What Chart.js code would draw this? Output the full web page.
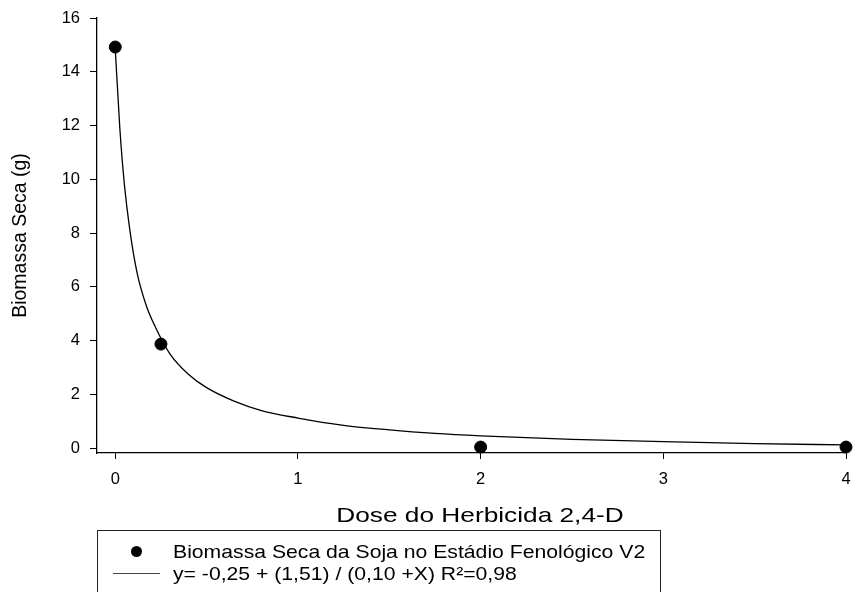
<!DOCTYPE html>
<html>
<head>
<meta charset="utf-8">
<script src="https://cdn.jsdelivr.net/npm/chart.js@4"></script>
<style>
  html, body { margin: 0; padding: 0; background: #fff; }
  #wrap { position: relative; width: 853px; height: 592px; overflow: hidden; }
  #c { position: absolute; left: 0; top: 0; }
  #xtitle {
    position: absolute; left: 480px; top: 514px; white-space: nowrap;
    font-family: "Liberation Sans", Arial, sans-serif; font-size: 21px; color: #000;
    transform: translate(-50%, -50%) scaleX(1.25); line-height: 1;
  }
  #legend {
    position: absolute; left: 97px; top: 530px; width: 564px; height: 80px;
    border: 1.5px solid #222; box-sizing: border-box; background: #fff;
    font-family: "Liberation Sans", Arial, sans-serif; font-size: 18.5px; color: #000;
  }
  .row { position: absolute; left: 0; width: 560px; height: 22px; line-height: 22px; white-space: nowrap; }
  .row span.t { position: absolute; left: 75px; transform: scaleX(1.145); transform-origin: 0 50%; }
  .dot { position: absolute; left: 33px; top: 5.5px; width: 11px; height: 11px; border-radius: 50%; background: #000; }
  .ln { position: absolute; left: 15px; top: 10.5px; width: 47px; height: 0; border-top: 1.5px solid #444; }
</style>
</head>
<body>
<div id="wrap">
  <canvas id="c" width="853" height="592"></canvas>
  <div id="xtitle"></div>
  <div id="legend">
    <div class="row" style="top:9.5px"><div class="dot"></div><span class="t" id="lg1"></span></div>
    <div class="row" style="top:31.5px"><div class="ln"></div><span class="t" id="lg2"></span></div>
  </div>
</div>
<script>
const doses = [0, 0.25, 2, 4];
const biomass = [14.92, 3.87, 0.04, 0.04];

// Fitted curve
const curveX = [0, 0.025, 0.05, 0.08, 0.12, 0.17, 0.22, 0.3, 0.4, 0.5, 0.65, 0.8, 1.0, 1.25, 1.5, 1.75, 2.0, 2.5, 3.0, 3.5, 4.0];
const curveY = [14.85, 11.9, 9.8, 8.1, 6.5, 5.3, 4.5, 3.5, 2.75, 2.25, 1.75, 1.4, 1.12, 0.85, 0.68, 0.55, 0.46, 0.33, 0.24, 0.17, 0.12];

const xTicks = [0, 1, 2, 3, 4];
const yTicks = [0, 2, 4, 6, 8, 10, 12, 14, 16];

const xTitle = 'Dose do Herbicida 2,4-D';
const yTitle = 'Biomassa Seca (g)';
const seriesLabel = 'Biomassa Seca da Soja no Estádio Fenológico V2';
const curveLabel = 'y= -0,25 + (1,51) / (0,10 +X) R²=0,98';

document.getElementById('xtitle').textContent = xTitle;
document.getElementById('lg1').textContent = seriesLabel;
document.getElementById('lg2').textContent = curveLabel;

const FONT = '"Liberation Sans", Arial, sans-serif';

new Chart(document.getElementById('c'), {
  type: 'scatter',
  data: {
    datasets: [
      {
        label: curveLabel,
        type: 'line',
        data: curveX.map((x, i) => ({x, y: curveY[i]})),
        borderColor: '#000',
        borderWidth: 1.3,
        pointRadius: 0,
        fill: false,
        cubicInterpolationMode: 'monotone',
        clip: false,
        order: 2
      },
      {
        label: seriesLabel,
        data: doses.map((x, i) => ({x, y: biomass[i]})),
        backgroundColor: '#000',
        borderColor: '#000',
        pointRadius: 6,
        pointHoverRadius: 6,
        clip: false,
        order: 1
      }
    ]
  },
  options: {
    responsive: false,
    animation: false,
    events: [],
    layout: { padding: { left: 0, right: 4, top: 18, bottom: 0 } },
    plugins: { legend: { display: false }, tooltip: { enabled: false } },
    scales: {
      x: {
        type: 'linear',
        min: -0.1, max: 4,
        afterFit: s => { s.height = 139; s.paddingLeft = 0; s.paddingRight = 0; },
        afterBuildTicks: s => { s.ticks = xTicks.map(v => ({value: v})); },
        ticks: { color: '#000', font: { family: FONT, size: 16.5 }, padding: 11, includeBounds: false, maxRotation: 0 },
        grid: { drawOnChartArea: false, drawTicks: true, tickLength: 6, color: '#000', lineWidth: 1 },
        border: { display: true, color: '#000', width: 1.3 },
        title: { display: false, text: xTitle }
      },
      y: {
        type: 'linear',
        min: -0.18, max: 16,
        afterFit: s => { s.width = 97; s.paddingTop = 0; s.paddingBottom = 0; },
        afterBuildTicks: s => { s.ticks = yTicks.map(v => ({value: v})); },
        ticks: { color: '#000', font: { family: FONT, size: 16.5 }, padding: 10, includeBounds: false },
        grid: { drawOnChartArea: false, drawTicks: true, tickLength: 7, color: '#000', lineWidth: 1 },
        border: { display: true, color: '#000', width: 1.3 },
        title: { display: true, text: yTitle, color: '#000', font: { family: FONT, size: 19.5 }, padding: { top: 9, bottom: 0 } }
      }
    }
  }
});
</script>
</body>
</html>
